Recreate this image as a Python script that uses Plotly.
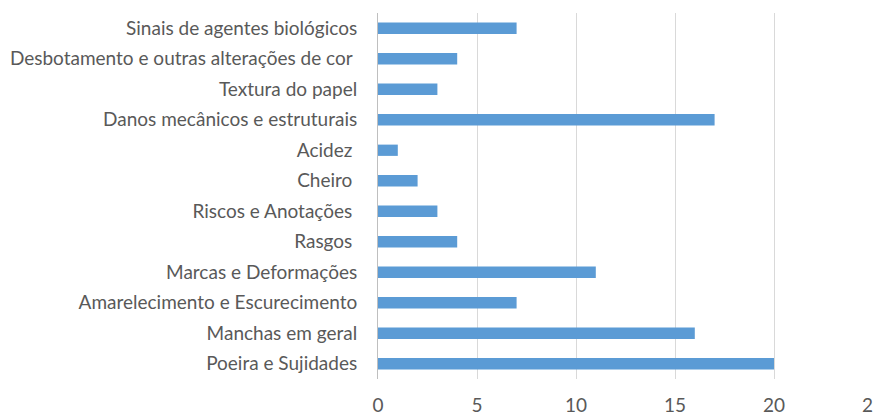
import plotly.graph_objects as go

categories = [
    "Poeira e Sujidades",
    "Manchas em geral",
    "Amarelecimento e Escurecimento",
    "Marcas e Deformações",
    "Rasgos\u00a0",
    "Riscos e Anotações\u00a0",
    "Cheiro\u00a0",
    "Acidez\u00a0",
    "Danos mecânicos e estruturais",
    "Textura do papel",
    "Desbotamento e outras alterações de cor\u00a0",
    "Sinais de agentes biológicos",
]
values = [20, 16, 7, 11, 4, 3, 2, 1, 17, 3, 4, 7]
x_ticks = [0, 5, 10, 15, 20, 25]

fig = go.Figure(go.Bar(
    y=categories, x=values, orientation="h",
    marker=dict(color="#5B9BD5", line=dict(width=0)),
))

font = dict(family="Lato, Carlito, sans-serif", size=19, color="#595959")
fig.update_layout(
    width=881, height=404,
    margin=dict(l=370, r=16, t=5, b=33),
    paper_bgcolor="white", plot_bgcolor="white",
    bargap=0.63, showlegend=False, font=font,
)
fig.update_xaxes(
    range=[0, 25], tickvals=x_ticks, showgrid=True, gridcolor="#D9D9D9",
    gridwidth=1, zeroline=False, showline=False, ticks="", tickfont=font,
    automargin=False, ticklabelstandoff=13, ticklabeloverflow="allow",
)
fig.update_yaxes(
    showline=True, linecolor="#BFBFBF", linewidth=1, showgrid=False,
    ticks="", tickfont=font, ticklabelstandoff=16, automargin=False,
)
fig.write_html("out.html")
